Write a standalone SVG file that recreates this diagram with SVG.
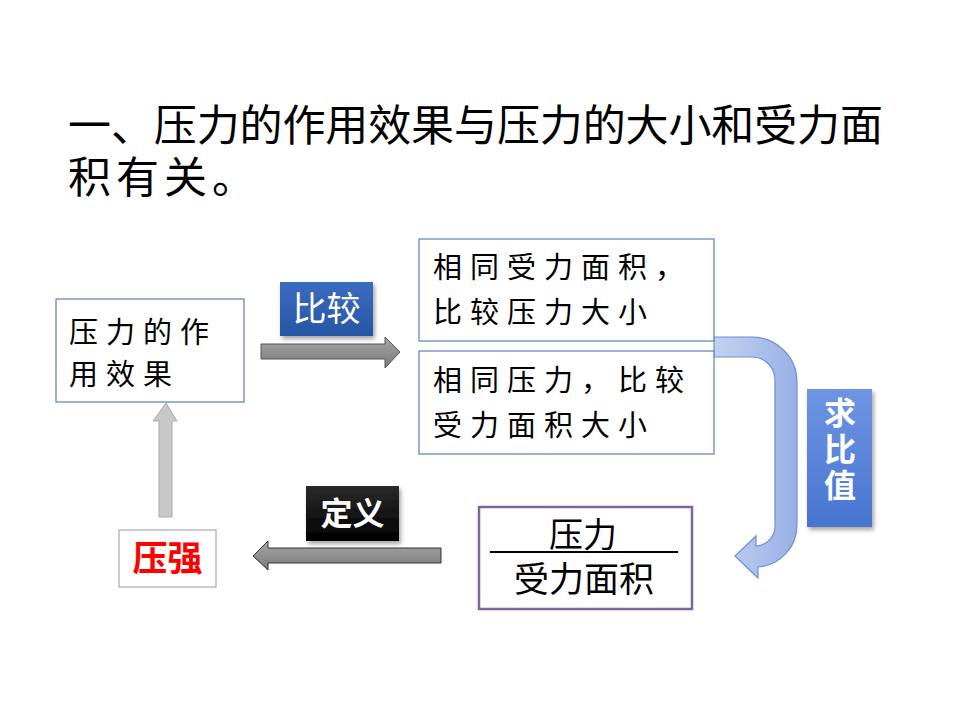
<svg xmlns="http://www.w3.org/2000/svg" width="960" height="720" viewBox="0 0 960 720">
<style>
.cjk{font-family:"Noto Sans CJK SC","Noto Sans",sans-serif;}
.box{fill:#ffffff;stroke:#5b7fb8;stroke-width:1.2;}
.bt{font-size:29px;fill:#000;letter-spacing:8px;}
.lab{fill:#fff;font-weight:bold;}
</style>
<defs>
<linearGradient id="gBlue" x1="0" y1="0" x2="0" y2="1"><stop offset="0" stop-color="#3a6cc0"/><stop offset="1" stop-color="#2656a4"/></linearGradient>
<linearGradient id="gBlue2" x1="0" y1="0" x2="0" y2="1"><stop offset="0" stop-color="#6f95e2"/><stop offset="1" stop-color="#4674d0"/></linearGradient>
<linearGradient id="gBlack" x1="0" y1="0" x2="0" y2="1"><stop offset="0" stop-color="#2a2a2a"/><stop offset="1" stop-color="#000"/></linearGradient>
<linearGradient id="gGray" x1="0" y1="0" x2="0" y2="1"><stop offset="0" stop-color="#a6a6a6"/><stop offset="1" stop-color="#7a7a7a"/></linearGradient>
<linearGradient id="gU" x1="0" y1="0" x2="1" y2="0"><stop offset="0" stop-color="#c4d2f0"/><stop offset="1" stop-color="#98b0e6"/></linearGradient>
<filter id="sh" x="-20%" y="-20%" width="150%" height="150%"><feDropShadow dx="2" dy="3" stdDeviation="2" flood-color="#000" flood-opacity="0.35"/></filter>
</defs>
<rect width="960" height="720" fill="#fff"/>
<g id="title" class="cjk" font-size="43" fill="#000">
<text x="68" y="141" textLength="815" lengthAdjust="spacing">一、压力的作用效果与压力的大小和受力面</text>
<text x="68" y="193" letter-spacing="5">积有关。</text>
</g>
<g id="connectors">
<path d="M261,344 H385 V337 L400,352 L385,368 V359 H261 Z" fill="url(#gGray)" stroke="#555" stroke-width="1"/>
<path d="M714,337 H752 A45,45 0 0 1 797,382 V525 A42,42 0 0 1 758,567 L758,578 L735,556 L756,536 L756,546 A20,20 0 0 0 775,526 V380 A23,23 0 0 0 752,357 H714 Z" fill="url(#gU)" stroke="#6f8fd6" stroke-width="1.2"/>
<path d="M441,548 H268 V541 L253,556 L268,570 V563 H441 Z" fill="url(#gGray)" stroke="#333" stroke-width="1"/>
<path d="M159,517 V421 H153 L166,403 L177,421 H172 V517 Z" fill="#c8c8c8" stroke="#aaa" stroke-width="1"/>
</g>
<g id="n-effect">
<rect class="box" x="56" y="299" width="188" height="103"/>
<text class="cjk bt" x="69" y="343">压力的作</text>
<text class="cjk bt" x="69" y="385">用效果</text>
</g>
<g id="label-compare">
<rect x="280" y="282" width="93" height="54" fill="url(#gBlue)" filter="url(#sh)"/>
<text class="cjk" x="326.5" y="321" font-size="34" fill="#fff" text-anchor="middle">比较</text>
</g>
<g id="n-same-area">
<rect class="box" x="419" y="239" width="295" height="102"/>
<text class="cjk bt" x="433" y="278">相同受力面积，</text>
<text class="cjk bt" x="433" y="323">比较压力大小</text>
</g>
<g id="n-same-force">
<rect class="box" x="419" y="351" width="295" height="103"/>
<text class="cjk bt" x="433" y="391">相同压力，比较</text>
<text class="cjk bt" x="433" y="436">受力面积大小</text>
</g>
<g id="label-ratio">
<rect x="807" y="389" width="65" height="138" fill="url(#gBlue2)" filter="url(#sh)"/>
<text class="cjk lab" x="840" y="397" font-size="32" writing-mode="vertical-rl" letter-spacing="4">求比值</text>
</g>
<g id="n-fraction">
<rect x="479" y="507" width="213" height="102" fill="#fff" stroke="#8064a2" stroke-width="2.5"/>
<line x1="490" y1="552" x2="678" y2="552" stroke="#000" stroke-width="2"/>
<text class="cjk" x="583" y="547" font-size="34" text-anchor="middle">压力</text>
<text class="cjk" x="584" y="592" font-size="35" text-anchor="middle">受力面积</text>
</g>
<g id="label-define">
<rect x="306" y="486" width="93" height="55" fill="url(#gBlack)" filter="url(#sh)"/>
<text class="cjk lab" x="352.5" y="525" font-size="32" text-anchor="middle">定义</text>
</g>
<g id="n-pressure">
<rect x="119" y="530" width="97" height="57" fill="#fff" stroke="#aaa" stroke-width="1.2"/>
<text class="cjk" x="167.5" y="571" font-size="35" font-weight="bold" fill="#ff0000" text-anchor="middle">压强</text>
</g>
</svg>
